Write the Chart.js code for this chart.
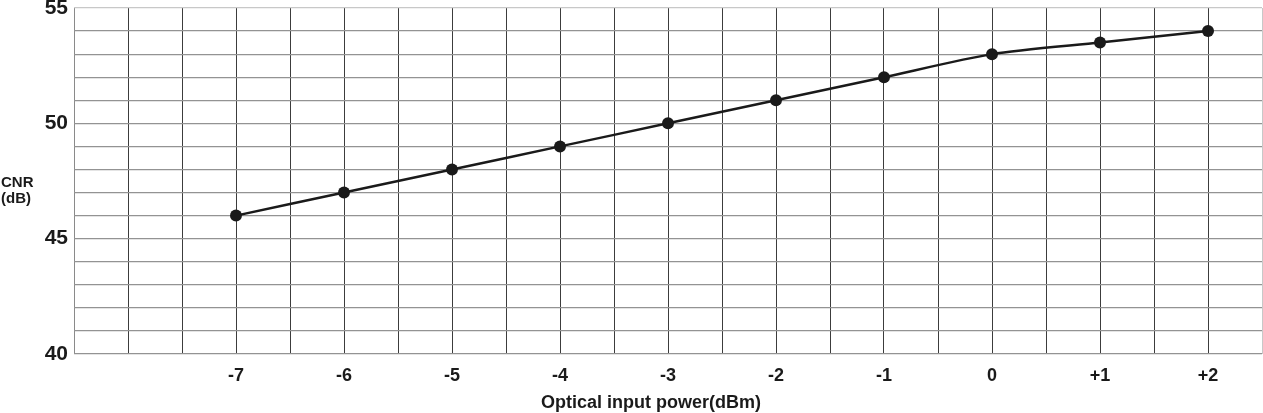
<!DOCTYPE html>
<html>
<head>
<meta charset="utf-8">
<title>CNR vs optical input power</title>
<script src="https://cdn.jsdelivr.net/npm/chart.js@4/dist/chart.umd.min.js"></script>
<style>
  html, body { margin: 0; padding: 0; background: #fff; }
  .chart { position: relative; width: 1263px; height: 413px; }
</style>
</head>
<body>
<div class="chart"><canvas id="myChart"></canvas></div>
<script>
// values
const powerLevels = [-7, -6, -5, -4, -3, -2, -1, 0, 1, 2];
const cnrValues   = [46, 47, 48, 49, 50, 51, 52, 53, 53.5, 54];
const yTickLabels = [40, 45, 50, 55];
const xTitle      = 'Optical input power(dBm)';
const yTitleLines = ['CNR', '(dB)'];

const FONT = "'Liberation Sans', Arial, sans-serif";
const INK  = '#1a1a1a';

// axis titles drawn by hand: the y title sits horizontally left of the ticks
const axisTitles = {
  id: 'axisTitles',
  afterDraw(chart) {
    const ctx = chart.ctx;
    ctx.save();
    ctx.fillStyle = INK;
    ctx.textBaseline = 'middle';
    ctx.font = 'bold 15px ' + FONT;
    ctx.textAlign = 'left';
    ctx.fillText(yTitleLines[0], 1, 183);
    ctx.fillText(yTitleLines[1], 1, 199);
    ctx.font = 'bold 18px ' + FONT;
    ctx.textAlign = 'center';
    ctx.fillText(xTitle, 651, 403);
    ctx.restore();
  }
};

const fmtPower = v => (v > 0 ? '+' + v : String(v));

new Chart(document.getElementById('myChart'), {
  type: 'line',
  data: {
    datasets: [{
      data: powerLevels.map((p, i) => ({ x: p, y: cnrValues[i] })),
      borderColor: INK,
      backgroundColor: INK,
      borderWidth: 2.5,
      pointRadius: 6,
      pointBackgroundColor: INK,
      pointBorderWidth: 0,
      tension: 0.25,
      fill: false
    }]
  },
  options: {
    responsive: true,
    maintainAspectRatio: false,
    animation: false,
    layout: { autoPadding: false, padding: { top: 8, right: 1, left: 0, bottom: 0 } },
    plugins: { legend: { display: false }, tooltip: { enabled: false } },
    scales: {
      x: {
        type: 'linear',
        min: -8.5,
        max: 2.5,
        afterFit: s => { s.height = 59; s.paddingLeft = 0; s.paddingRight = 0; },
        border: { display: false },
        grid: {
          drawTicks: false,
          lineWidth: 1,
          color: c => {
            const v = c.tick && c.tick.value;
            if (v === -8.5) return '#8a8a8a';
            if (v === 2.5) return '#c8c8c8';
            return '#3c3c3c';
          }
        },
        ticks: {
          stepSize: 0.5,
          autoSkip: false,
          maxRotation: 0,
          maxTicksLimit: 30,
          padding: 11,
          color: INK,
          font: { family: FONT, size: 18, weight: 'bold' },
          callback: v => (powerLevels.includes(v) ? fmtPower(v) : '')
        }
      },
      y: {
        min: 40,
        max: 55,
        afterFit: s => { s.width = 74; s.paddingTop = 0; s.paddingBottom = 0; },
        border: { display: false },
        grid: {
          drawTicks: false,
          lineWidth: 1.2,
          color: c => (c.tick && c.tick.value === 55 ? '#c8c8c8' : '#939393')
        },
        ticks: {
          stepSize: 1,
          autoSkip: false,
          maxTicksLimit: 30,
          padding: 6,
          color: INK,
          font: { family: FONT, size: 21, weight: 'bold', lineHeight: 1 },
          callback: v => (yTickLabels.includes(v) ? String(v) : '')
        }
      }
    }
  },
  plugins: [axisTitles]
});
</script>
</body>
</html>
